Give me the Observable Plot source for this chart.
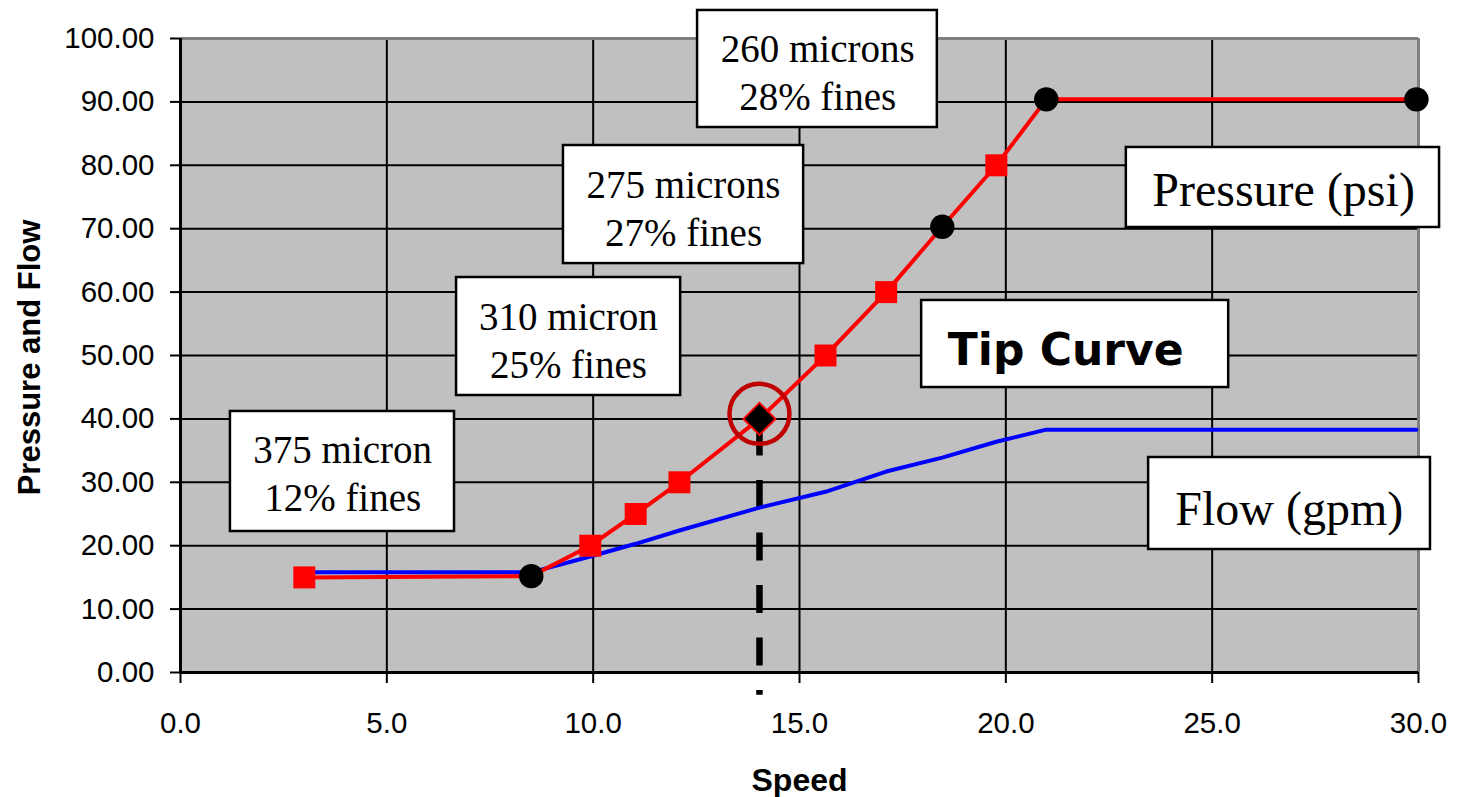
<!DOCTYPE html>
<html>
<head>
<meta charset="utf-8">
<script src="https://cdn.jsdelivr.net/npm/d3@7"></script>
<script src="https://cdn.jsdelivr.net/npm/@observablehq/plot@0.6"></script>
<style>
  html, body { margin: 0; padding: 0; background: #fff; overflow: hidden; }
</style>
</head>
<body>
<div id="chart"></div>
<script>
// ---- data ----
const speed    = [3.0, 8.5, 9.93, 11.03, 12.09, 14.03, 15.63, 17.1, 18.46, 19.77, 20.98, 29.95];
const pressure = [15.0, 15.2, 20.0, 25.0, 30.0, 40.0, 50.0, 60.0, 70.3, 80.0, 90.4, 90.4];
const flow     = [15.8, 15.8, 18.3, 20.3, 22.4, 26.0, 28.5, 31.7, 33.9, 36.4, 38.3, 38.3];
const markerShape = ["square", "circle", "square", "square", "square", "diamond2", "square", "square", "circle", "square", "circle", "circle"];

const xTicks = [0, 5, 10, 15, 20, 25, 30];
const yTicks = [0, 10, 20, 30, 40, 50, 60, 70, 80, 90, 100];

// annotation labels (text) and their anchor boxes in data units
const noteText = ["375 micron\n12% fines", "310 micron\n25% fines", "275 microns\n27% fines", "260 microns\n28% fines"];
const noteX    = [3.93, 9.40, 12.19, 15.44];
const noteY    = [31.7, 52.7, 73.5, 94.95];
const noteX1   = [1.21, 6.69, 9.28, 12.53];
const noteX2   = [6.64, 12.12, 15.10, 18.34];
const noteY1   = [22.24, 43.69, 64.5, 85.96];
const noteY2   = [41.17, 62.30, 83.12, 104.42];

const seriesText = ["Pressure (psi)", "Flow (gpm)"];
const seriesX  = [26.73, 26.87];
const seriesY  = [76.0, 25.7];
const seriesX1 = [22.92, 23.46];
const seriesX2 = [30.51, 30.29];
const seriesY1 = [70.19, 19.40];
const seriesY2 = [82.81, 33.91];

const titleText = ["Tip Curve"];
const titleX = [21.45], titleY = [50.8];
const titleX1 = [17.96], titleX2 = [25.40], titleY1 = [44.95], titleY2 = [58.68];

const tipSpeed = 14.03, tipPressure = 40.0, tipBottom = -3.6;

// ---- tables ----
const pts = speed.map((s, i) => ({speed: s, pressure: pressure[i], flow: flow[i], shape: markerShape[i]}));
const squares = pts.filter(d => d.shape === "square");
const circles = pts.filter(d => d.shape === "circle");
const diamonds = pts.filter(d => d.shape === "diamond2");
const notes = noteText.map((t, i) => ({t, x: noteX[i], y: noteY[i], x1: noteX1[i], x2: noteX2[i], y1: noteY1[i], y2: noteY2[i]}));
const series = seriesText.map((t, i) => ({t, x: seriesX[i], y: seriesY[i], x1: seriesX1[i], x2: seriesX2[i], y1: seriesY1[i], y2: seriesY2[i]}));
const titles = titleText.map((t, i) => ({t, x: titleX[i], y: titleY[i], x1: titleX1[i], x2: titleX2[i], y1: titleY1[i], y2: titleY2[i]}));
const tip = [{x: tipSpeed, y1: tipPressure, y2: tipBottom, ry: tipPressure + 0.8}];

const sans = "'Liberation Sans', Arial, sans-serif";
const serif = "'Liberation Serif', 'Times New Roman', serif";

const chart = Plot.plot({
  width: 1459,
  height: 797,
  marginLeft: 180,
  marginRight: 41,
  marginTop: 38,
  marginBottom: 125,
  style: {fontFamily: sans, background: "white", overflow: "visible"},
  x: {domain: [0, 30]},
  y: {domain: [0, 100]},
  marks: [
    Plot.frame({fill: "#c0c0c0", stroke: null}),
    Plot.gridX({ticks: xTicks.filter(d => d > 0 && d < 30), stroke: "black", strokeOpacity: 1, strokeWidth: 2}),
    Plot.gridY({ticks: yTicks.filter(d => d > 0 && d < 100), stroke: "black", strokeOpacity: 1, strokeWidth: 2}),
    Plot.ruleY([100], {stroke: "#808080", strokeWidth: 3}),
    Plot.ruleX([30], {stroke: "#808080", strokeWidth: 3}),
    Plot.axisY({ticks: yTicks, tickFormat: d => d.toFixed(2), tickSize: 10, tickPadding: 16, fontSize: 29.5, label: null, strokeWidth: 2, fill: "black"}),
    Plot.axisX({ticks: xTicks, tickFormat: d => d.toFixed(1), tickSize: 11, tickPadding: 29, fontSize: 29.5, label: null, strokeWidth: 2, fill: "black"}),
    Plot.ruleX([0], {stroke: "black", strokeWidth: 3}),
    Plot.ruleY([0], {stroke: "black", strokeWidth: 3}),
    Plot.text(["Pressure and Flow"], {frameAnchor: "left", textAnchor: "middle", lineAnchor: "middle", rotate: -90, dx: -150, dy: 2, fontWeight: "bold", fontSize: 31, fill: "black"}),
    Plot.text(["Speed"], {frameAnchor: "bottom", lineAnchor: "bottom", dy: 118, fontWeight: "bold", fontSize: 32, fill: "black"}),
    // dashed tip line
    Plot.ruleX(tip, {x: "x", y1: "y1", y2: "y2", stroke: "black", strokeWidth: 6.5, strokeDasharray: "28,24.5", strokeDashoffset: 43.5}),
    // series
    Plot.line(pts, {x: "speed", y: "flow", stroke: "#0000ff", strokeWidth: 4}),
    Plot.line(pts, {x: "speed", y: "pressure", stroke: "#ff0000", strokeWidth: 4}),
    Plot.dot(squares, {x: "speed", y: "pressure", symbol: "square", r: 12.4, fill: "#ff0000", stroke: null}),
    Plot.dot(circles, {x: "speed", y: "pressure", symbol: "circle", r: 12.2, fill: "black", stroke: null}),
    Plot.dot(diamonds, {x: "speed", y: "pressure", symbol: "diamond2", r: 14.4, fill: "black", stroke: "#ff0000", strokeWidth: 2}),
    Plot.dot(tip, {x: "x", y: "ry", r: 30, fill: "none", stroke: "#c00000", strokeWidth: 4.5}),
    // annotation boxes
    Plot.rect(notes, {x1: "x1", x2: "x2", y1: "y1", y2: "y2", fill: "white", stroke: "black", strokeWidth: 2.5}),
    Plot.text(notes, {x: "x", y: "y", text: "t", fontFamily: serif, fontSize: 39, lineHeight: 1.23, fill: "black"}),
    Plot.rect(series, {x1: "x1", x2: "x2", y1: "y1", y2: "y2", fill: "white", stroke: "black", strokeWidth: 2.5}),
    Plot.text(series, {x: "x", y: "y", text: "t", fontFamily: serif, fontSize: 48, fill: "black"}),
    Plot.rect(titles, {x1: "x1", x2: "x2", y1: "y1", y2: "y2", fill: "white", stroke: "black", strokeWidth: 2.5}),
    Plot.text(titles, {x: "x", y: "y", text: "t", fontFamily: "'DejaVu Sans', Verdana, sans-serif", fontWeight: "bold", fontSize: 44, fill: "black"})
  ]
});
document.getElementById("chart").appendChild(chart);
</script>
</body>
</html>
